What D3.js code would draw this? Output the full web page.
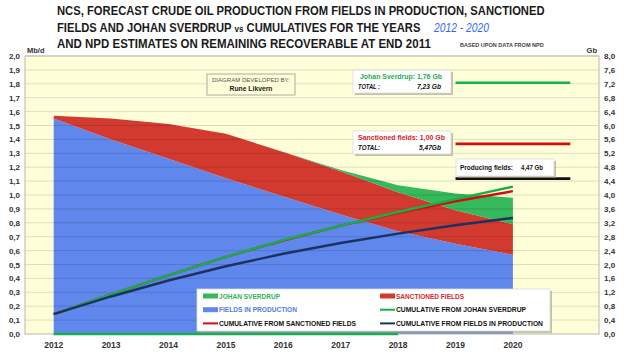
<!DOCTYPE html>
<html>
<head>
<meta charset="utf-8">
<script src="https://cdn.jsdelivr.net/npm/d3@7"></script>
<style>
  body { margin: 0; background: #fff; }
  svg { display: block; }
</style>
</head>
<body>
<div id="chart"></div>
<script>
// categories (2021 only carries the end of the total lines)
var years = ["2012", "2013", "2014", "2015", "2016", "2017", "2018", "2019", "2020", "2021"];
var prodYears = years.slice(0, 9);

// production, Mb/d (left axis)
var fieldsInProduction = [1.55, 1.40, 1.26, 1.12, 0.99, 0.86, 0.74, 0.65, 0.57];
var sanctionedFields   = [0.02, 0.15, 0.25, 0.32, 0.32, 0.31, 0.28, 0.24, 0.22];
var johanSverdrup      = [0, 0, 0, 0, 0, 0.01, 0.05, 0.12, 0.19];
var jsBaseYears = ["2012", "2013", "2014", "2015", "2016", "2017", "2018"];
var jsBase = [0, 0, 0, 0, 0, 0, 0];

// cumulatives, Gb (right axis)
var cumProduction = [0.57, 1.08, 1.54, 1.95, 2.31, 2.62, 2.89, 3.13, 3.34];
var cumSanctioned = [0.57, 1.14, 1.69, 2.22, 2.69, 3.12, 3.49, 3.82, 4.11];
var cumSverdrup   = [0.57, 1.14, 1.69, 2.22, 2.70, 3.12, 3.51, 3.88, 4.24];

// remaining recoverable totals, Gb (right axis)
var totalYears = ["2019", "2020", "2021"];
var totalSverdrup = 7.23, totalSanctioned = 5.47, totalProducing = 4.47;

var leftTicks = d3.range(0, 21).map(function(i) { return i / 10; });
var rightTicks = d3.range(0, 21).map(function(i) { return i * 0.4; });

var colBlue = "#5f87ec", colRed = "#d23a2f", colGreen = "#35b95c";
var lineGreen = "#14b04a", lineRed = "#d40c0c", lineNavy = "#1c3260";

var W = 630, H = 354;
var plot = {left: 25, right: 599, top: 56, bottom: 334};
var fontFam = "'Liberation Sans Narrow', 'Liberation Sans', Arial, sans-serif";

var svg = d3.select("#chart").append("svg")
    .attr("width", W)
    .attr("height", H)
    .style("font-family", fontFam);

var x = d3.scaleBand().domain(years).range([plot.left, plot.right]).padding(0);
var cx = function(d) { return x(d) + x.bandwidth() / 2; };
var yL = d3.scaleLinear().domain([0, 2]).range([plot.bottom, plot.top]);
var yR = d3.scaleLinear().domain([0, 8]).range([plot.bottom, plot.top]);

// plot background
svg.append("rect")
    .attr("x", plot.left).attr("y", plot.top)
    .attr("width", plot.right - plot.left).attr("height", plot.bottom - plot.top)
    .attr("fill", "#fefed8");

// stacked areas
var rows = prodYears.map(function(y, i) {
    return {year: y, prod: fieldsInProduction[i], sanc: sanctionedFields[i], js: johanSverdrup[i]};
});
var stack = d3.stack().keys(["prod", "sanc", "js"]);
var layers = stack(rows);
var fills = {prod: colBlue, sanc: colRed, js: colGreen};

var area = d3.area()
    .x(function(d) { return cx(d.data.year); })
    .y0(function(d) { return yL(d[0]); })
    .y1(function(d) { return yL(d[1]); });

svg.selectAll(".layer")
    .data(layers)
    .enter().append("path")
    .attr("class", "layer")
    .attr("d", area)
    .attr("fill", function(d) { return fills[d.key]; });

// gridlines over the areas, faint
svg.selectAll(".grid")
    .data(leftTicks.slice(1))
    .enter().append("line")
    .attr("class", "grid")
    .attr("x1", plot.left).attr("x2", plot.right)
    .attr("y1", function(d) { return yL(d); })
    .attr("y2", function(d) { return yL(d); })
    .attr("stroke", "#000")
    .attr("stroke-opacity", 0.13)
    .attr("stroke-width", 1);

// plot border
svg.append("rect")
    .attr("x", plot.left).attr("y", plot.top)
    .attr("width", plot.right - plot.left).attr("height", plot.bottom - plot.top)
    .attr("fill", "none")
    .attr("stroke", "#b8b8a8")
    .attr("stroke-width", 1);

// green baseline
svg.append("path")
    .datum(jsBase.map(function(v, i) { return {year: jsBaseYears[i], v: v}; }))
    .attr("d", d3.line().x(function(d) { return cx(d.year); }).y(function(d) { return yL(d.v); }))
    .attr("fill", "none")
    .attr("stroke", lineGreen)
    .attr("stroke-width", 2.5);

// cumulative lines
function cumLine(values, color) {
    svg.append("path")
        .datum(values.map(function(v, i) { return {year: prodYears[i], v: v}; }))
        .attr("d", d3.line().x(function(d) { return cx(d.year); }).y(function(d) { return yR(d.v); }))
        .attr("fill", "none")
        .attr("stroke", color)
        .attr("stroke-width", 2.4);
}
cumLine(cumSanctioned, lineRed);
cumLine(cumSverdrup, lineGreen);
cumLine(cumProduction, lineNavy);

// total lines
function totalLine(v, color) {
    svg.append("path")
        .datum(totalYears.map(function(y) { return {year: y, v: v}; }))
        .attr("d", d3.line().x(function(d) { return cx(d.year); }).y(function(d) { return yR(d.v); }))
        .attr("fill", "none")
        .attr("stroke", color)
        .attr("stroke-width", 2.6);
}
totalLine(totalSverdrup, lineGreen);
totalLine(totalSanctioned, lineRed);
totalLine(totalProducing, "#111");

// axes
var fmt = function(d) { return d3.format(".1f")(d).replace(".", ","); };
var axisFont = function(g) {
    g.select(".domain").remove();
    g.selectAll(".tick line").remove();
    g.selectAll("text")
        .style("font-family", fontFam)
        .style("font-weight", "bold")
        .style("font-size", "8px")
        .attr("fill", "#333");
};

svg.append("g")
    .attr("transform", "translate(" + plot.left + ",0)")
    .call(d3.axisLeft(yL).tickValues(leftTicks).tickFormat(fmt).tickSize(0).tickPadding(5))
    .call(axisFont);

svg.append("g")
    .attr("transform", "translate(" + plot.right + ",0)")
    .call(d3.axisRight(yR).tickValues(rightTicks).tickFormat(fmt).tickSize(0).tickPadding(5))
    .call(axisFont);

svg.append("g")
    .attr("transform", "translate(0," + plot.bottom + ")")
    .call(d3.axisBottom(x).tickValues(prodYears).tickSize(0).tickPadding(8))
    .call(axisFont)
    .selectAll("text").style("font-size", "8.5px");

// units
svg.append("text").attr("x", 27).attr("y", 53)
    .style("font-size", "7.5px").style("font-weight", "bold").attr("fill", "#333").text("Mb/d");
svg.append("text").attr("x", 597).attr("y", 53).attr("text-anchor", "end")
    .style("font-size", "7.5px").style("font-weight", "bold").attr("fill", "#333").text("Gb");

// title lines, squeezed horizontally to the width in the original
function squeezed(x0, y0, width, build) {
    var g = svg.append("g");
    var t = g.append("text").attr("x", 0).attr("y", 0);
    build(t);
    var natural = t.node().getComputedTextLength();
    g.attr("transform", "translate(" + x0 + "," + y0 + ") scale(" + (width / natural) + ",1)");
    return t;
}
function titleStyle(t, size) {
    return t.style("font-weight", "bold").style("font-size", size).attr("fill", "#1a1a1a");
}
squeezed(57, 15, 488, function(t) {
    titleStyle(t, "12.5px").text("NCS, FORECAST CRUDE OIL PRODUCTION FROM FIELDS IN PRODUCTION, SANCTIONED");
});
squeezed(57, 31.5, 364, function(t) {
    titleStyle(t, "12.5px");
    t.append("tspan").text("FIELDS AND JOHAN SVERDRUP ");
    t.append("tspan").style("font-size", "9px").text("vs");
    t.append("tspan").text(" CUMULATIVES FOR THE YEARS");
});
squeezed(434, 31.5, 55, function(t) {
    t.style("font-size", "12.5px").style("font-style", "italic").attr("fill", "#3366ff").text("2012 - 2020");
});
squeezed(57, 48, 374, function(t) {
    titleStyle(t, "12.5px").text("AND NPD ESTIMATES ON REMAINING RECOVERABLE  AT END 2011");
});
squeezed(460, 47, 84, function(t) {
    t.style("font-size", "4.5px").style("font-weight", "bold").attr("fill", "#444").text("BASED UPON DATA FROM NPD");
});

// shadowed label box
function box(x0, y0, w, h, fill, stroke, shadow) {
    if (shadow) {
        svg.append("rect").attr("x", x0 + 2).attr("y", y0 + 2).attr("width", w).attr("height", h)
            .attr("fill", "#9a9a8a").attr("opacity", 0.6);
    }
    svg.append("rect").attr("x", x0).attr("y", y0).attr("width", w).attr("height", h)
        .attr("fill", fill).attr("stroke", stroke).attr("stroke-width", 0.8);
}

function label(x0, y0, txt, opts) {
    var t = svg.append("text").attr("x", x0).attr("y", y0)
        .style("font-size", opts.size || "7px")
        .style("font-weight", opts.weight || "bold")
        .style("font-style", opts.italic ? "italic" : "normal")
        .attr("text-anchor", opts.anchor || "start")
        .attr("fill", opts.color || "#111")
        .text(txt);
    if (opts.len) t.attr("textLength", opts.len).attr("lengthAdjust", "spacingAndGlyphs");
    return t;
}

// author box
box(207, 74, 88, 21, "#fefed8", "#9a9a9a", false);
label(251, 82, "DIAGRAM DEVELOPED BY:", {size: "6px", weight: "normal", anchor: "middle", color: "#555", len: 78});
label(251, 91, "Rune Likvern", {size: "6.5px", anchor: "middle", color: "#222", len: 43});

// total annotation boxes
box(353, 70, 98, 23, "#fff", "#ddd", true);
label(360, 78.5, "Johan Sverdrup: 1,76 Gb", {color: "#22b04e", len: 82});
label(358, 88.5, "TOTAL :", {italic: true, len: 22});
label(417, 88.5, "7,23 Gb", {italic: true, len: 24});

box(353, 131, 98, 23, "#fff", "#ddd", true);
label(358, 139.5, "Sanctioned fields: 1,00 Gb", {color: "#d41c1c", len: 87});
label(358, 149.5, "TOTAL:", {italic: true, len: 22});
label(419, 149.5, "5,47Gb", {italic: true, len: 22});

box(456, 159, 98, 17, "#fff", "#ddd", true);
label(460, 170, "Producing fields:", {len: 53});
label(521, 170, "4,47 Gb", {len: 22});

// legend
box(197, 289, 353, 42, "#fff", "#ddd", true);
var legend = [
    {label: "JOHAN SVERDRUP", type: "area", color: colGreen, text: "#2fb257", col: 0, row: 0, len: 61},
    {label: "SANCTIONED FIELDS", type: "area", color: colRed, text: "#d02a2a", col: 1, row: 0, len: 68},
    {label: "FIELDS IN PRODUCTION", type: "area", color: colBlue, text: "#4f7be6", col: 0, row: 1, len: 78},
    {label: "CUMULATIVE FROM JOHAN SVERDRUP", type: "line", color: lineGreen, text: "#111", col: 1, row: 1, len: 130},
    {label: "CUMULATIVE FROM SANCTIONED FIELDS", type: "line", color: lineRed, text: "#111", col: 0, row: 2, len: 137},
    {label: "CUMULATIVE FROM FIELDS IN PRODUCTION", type: "line", color: lineNavy, text: "#111", col: 1, row: 2, len: 147}
];
var lg = svg.selectAll(".lg").data(legend).enter().append("g")
    .attr("class", "lg")
    .attr("transform", function(d) {
        return "translate(" + (d.col ? 380 : 203) + "," + (296 + d.row * 13.7) + ")";
    });
lg.filter(function(d) { return d.type === "area"; }).append("rect")
    .attr("x", 0).attr("y", -2.5).attr("width", 15).attr("height", 5)
    .attr("fill", function(d) { return d.color; });
lg.filter(function(d) { return d.type === "line"; }).append("line")
    .attr("x1", 0).attr("x2", 15).attr("y1", 0).attr("y2", 0)
    .attr("stroke", function(d) { return d.color; }).attr("stroke-width", 2);
lg.append("text")
    .attr("x", 16).attr("y", 2.5)
    .style("font-size", "6.8px").style("font-weight", "bold")
    .attr("textLength", function(d) { return d.len; })
    .attr("lengthAdjust", "spacingAndGlyphs")
    .attr("fill", function(d) { return d.text; })
    .text(function(d) { return d.label; });
</script>
</body>
</html>
